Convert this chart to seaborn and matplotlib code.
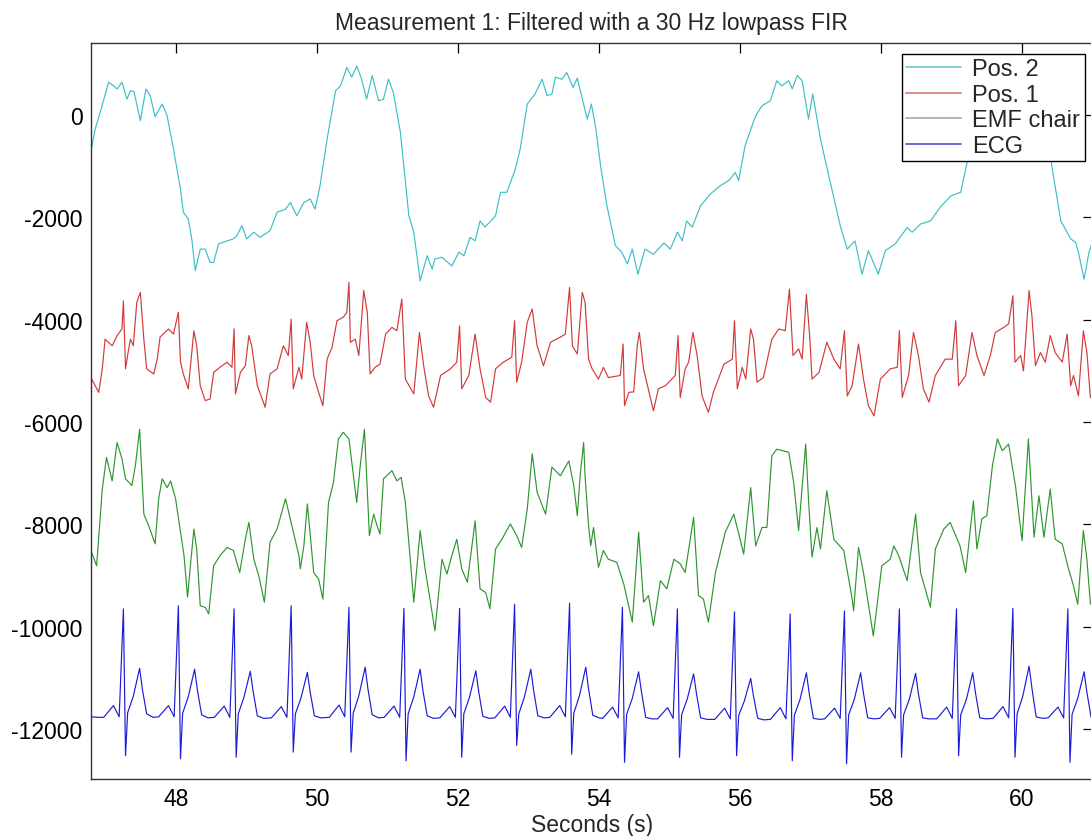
import matplotlib
matplotlib.use("Agg")
import matplotlib.pyplot as plt
import seaborn as sns
from matplotlib.lines import Line2D

sns.set_style("white")
plt.rcParams['font.family'] = ['Liberation Sans', 'DejaVu Sans']
plt.rcParams['axes.unicode_minus'] = False

# ---- Pos. 2 (cyan) ----
pos2_t = [46.79, 46.85, 46.92, 47.04, 47.11, 47.16, 47.23, 47.30, 47.35, 47.40,
          47.49, 47.57, 47.63, 47.70, 47.80, 47.87, 47.96, 48.06, 48.10, 48.17,
          48.22, 48.27, 48.34, 48.41, 48.48, 48.53, 48.60, 48.72, 48.81, 48.86,
          48.93, 49.00, 49.10, 49.19, 49.33, 49.43, 49.55, 49.62, 49.71, 49.81,
          49.90, 49.97, 50.04, 50.14, 50.26, 50.33, 50.42, 50.49, 50.56, 50.63,
          50.70, 50.78, 50.87, 50.94, 51.01, 51.08, 51.18, 51.30, 51.37, 51.44,
          51.46, 51.56, 51.63, 51.67, 51.77, 51.91, 52.01, 52.08, 52.17, 52.24,
          52.31, 52.38, 52.53, 52.60, 52.69, 52.81, 52.88, 52.98, 53.09, 53.19,
          53.26, 53.33, 53.38, 53.47, 53.54, 53.63, 53.69, 53.83, 53.89, 53.95,
          54.02, 54.11, 54.23, 54.32, 54.40, 54.47, 54.55, 54.65, 54.77, 54.92,
          55.01, 55.11, 55.18, 55.24, 55.32, 55.44, 55.58, 55.72, 55.84, 55.93,
          55.98, 56.07, 56.22, 56.31, 56.43, 56.52, 56.59, 56.69, 56.74, 56.81,
          56.88, 56.97, 57.03, 57.14, 57.28, 57.42, 57.52, 57.63, 57.73, 57.82,
          57.96, 58.06, 58.20, 58.37, 58.44, 58.56, 58.70, 58.84, 58.99, 59.13,
          59.22, 59.34, 59.55, 59.84, 60.12, 60.33, 60.43, 60.55, 60.69, 60.76,
          60.80, 60.88, 60.95, 60.98]
pos2_v = [-700, -270, 50, 640, 570, 510, 640, 310, 475, 455,
          -110, 510, 380, -30, 215, -15, -660, -1450, -1900, -2030,
          -2420, -3040, -2620, -2620, -2880, -2880, -2520, -2460, -2420, -2360,
          -2160, -2420, -2290, -2390, -2260, -1900, -1840, -1710, -1970, -1710,
          -1640, -1840, -1380, -470, 475, 570, 930, 740, 960, 700,
          310, 770, 280, 310, 700, 440, -340, -1970, -2290, -3010,
          -3240, -2750, -3010, -2810, -2780, -2950, -2680, -2750, -2390, -2460,
          -2070, -2190, -1970, -1510, -1510, -1060, -660, 215, 410, 700,
          380, 410, 740, 700, 830, 540, 720, -80, 215, -240,
          -990, -1770, -2550, -2680, -2910, -2620, -3110, -2620, -2720, -2500,
          -2620, -2290, -2460, -2070, -2190, -1770, -1540, -1380, -1280, -1120,
          -1280, -600, -15, 180, 280, 670, 570, 670, 510, 770,
          670, -80, 410, -470, -1320, -2160, -2620, -2460, -3110, -2650,
          -3110, -2650, -2520, -2200, -2290, -2130, -2070, -1800, -1580, -1510,
          -920, 120, 700, 800, 610, -80, -1060, -2070, -2420, -2490,
          -2680, -3210, -2680, -2550]

# ---- Pos. 1 (red) ----
pos1_t = [46.80, 46.90, 46.95, 46.99, 47.09, 47.16, 47.23, 47.25, 47.28, 47.32,
          47.35, 47.39, 47.44, 47.49, 47.54, 47.58, 47.68, 47.73, 47.77, 47.89,
          47.96, 48.03, 48.06, 48.10, 48.17, 48.25, 48.29, 48.34, 48.41, 48.48,
          48.53, 48.62, 48.72, 48.79, 48.82, 48.84, 48.91, 48.98, 49.03, 49.07,
          49.15, 49.22, 49.26, 49.33, 49.43, 49.52, 49.59, 49.63, 49.66, 49.74,
          49.78, 49.85, 49.90, 49.95, 50.02, 50.08, 50.14, 50.21, 50.28, 50.37,
          50.42, 50.45, 50.47, 50.54, 50.59, 50.66, 50.71, 50.75, 50.82, 50.89,
          50.97, 51.06, 51.13, 51.20, 51.25, 51.37, 51.45, 51.51, 51.58, 51.65,
          51.75, 51.89, 51.98, 52.02, 52.05, 52.15, 52.24, 52.31, 52.39, 52.46,
          52.53, 52.64, 52.76, 52.80, 52.83, 52.90, 52.98, 53.05, 53.12, 53.21,
          53.31, 53.45, 53.52, 53.58, 53.62, 53.69, 53.76, 53.80, 53.85, 53.90,
          53.99, 54.06, 54.13, 54.30, 54.34, 54.36, 54.42, 54.49, 54.54, 54.57,
          54.63, 54.77, 54.84, 54.94, 55.08, 55.12, 55.15, 55.22, 55.27, 55.33,
          55.39, 55.46, 55.55, 55.62, 55.77, 55.89, 55.92, 55.96, 56.03, 56.08,
          56.15, 56.19, 56.24, 56.33, 56.45, 56.55, 56.64, 56.70, 56.75, 56.83,
          56.88, 56.94, 56.99, 57.02, 57.12, 57.23, 57.33, 57.42, 57.48, 57.52,
          57.59, 57.68, 57.75, 57.82, 57.90, 57.99, 58.13, 58.23, 58.26, 58.30,
          58.39, 58.46, 58.53, 58.60, 58.68, 58.77, 58.91, 59.01, 59.06, 59.10,
          59.20, 59.29, 59.36, 59.46, 59.55, 59.62, 59.74, 59.81, 59.87, 59.90,
          59.98, 60.02, 60.10, 60.14, 60.19, 60.26, 60.33, 60.40, 60.47, 60.57,
          60.64, 60.69, 60.73, 60.80, 60.87, 60.92, 60.97]
pos1_v = [-5160, -5420, -4960, -4380, -4510, -4310, -4180, -3630, -4960, -4610,
          -4380, -4510, -3660, -3465, -4380, -4960, -5060, -4770, -4340, -4180,
          -4280, -3855, -4830, -5060, -5350, -4215, -4510, -5290, -5580, -5550,
          -5030, -4930, -4830, -4930, -4180, -5450, -5030, -4900, -4310, -4510,
          -5290, -5550, -5710, -5060, -4960, -4510, -4700, -3990, -5350, -4930,
          -5160, -4050, -4440, -5090, -5420, -5680, -4770, -4540, -4020, -3950,
          -3855, -3270, -4440, -4380, -4700, -3430, -3855, -5060, -4930, -4870,
          -4280, -4150, -4215, -3595, -5160, -5450, -4250, -4900, -5490, -5710,
          -5090, -4960, -4830, -4120, -5350, -5090, -4280, -4960, -5520, -5610,
          -4960, -4830, -4735, -4020, -5220, -4830, -4050, -3790, -4510, -4900,
          -4440, -4340, -4280, -3370, -4510, -4670, -3465, -3660, -4770, -4960,
          -5160, -4930, -5130, -5090, -4475, -5680, -5420, -5410, -4510, -4250,
          -4960, -5780, -5350, -5290, -5090, -4310, -5520, -4960, -4830, -4250,
          -4700, -5490, -5810, -5420, -4870, -4770, -4020, -5350, -4930, -5160,
          -4180, -4380, -5220, -5130, -4380, -4180, -4215, -3400, -4700, -4570,
          -4770, -3500, -4380, -5160, -5030, -4440, -4770, -4960, -4215, -5490,
          -5290, -4475, -5160, -5680, -5880, -5160, -4960, -4930, -4215, -5520,
          -5090, -4250, -4700, -5350, -5610, -5090, -4770, -4770, -4020, -5290,
          -5090, -4250, -4700, -5090, -4700, -4250, -4150, -4080, -3530, -4830,
          -4700, -5000, -3430, -3920, -4900, -4640, -4830, -4310, -4640, -4830,
          -4280, -5290, -5090, -5490, -4215, -4640, -5520]

# ---- green trace (no legend entry) ----
green_t = [46.80, 46.87, 46.95, 47.01, 47.09, 47.16, 47.23, 47.28, 47.37, 47.42,
           47.48, 47.54, 47.61, 47.70, 47.75, 47.80, 47.87, 47.92, 47.99, 48.06,
           48.11, 48.16, 48.20, 48.25, 48.29, 48.34, 48.41, 48.46, 48.53, 48.62,
           48.72, 48.81, 48.90, 48.98, 49.03, 49.10, 49.17, 49.25, 49.33, 49.43,
           49.55, 49.64, 49.74, 49.76, 49.81, 49.86, 49.95, 50.02, 50.08, 50.16,
           50.23, 50.30, 50.37, 50.45, 50.52, 50.56, 50.61, 50.67, 50.74, 50.80,
           50.85, 50.89, 50.94, 51.06, 51.13, 51.19, 51.25, 51.32, 51.37, 51.46,
           51.53, 51.60, 51.67, 51.77, 51.84, 51.91, 51.98, 52.05, 52.13, 52.24,
           52.31, 52.39, 52.45, 52.53, 52.62, 52.74, 52.83, 52.90, 52.98, 53.05,
           53.12, 53.24, 53.33, 53.45, 53.57, 53.64, 53.69, 53.73, 53.78, 53.80,
           53.85, 53.88, 53.92, 53.99, 54.06, 54.13, 54.25, 54.35, 54.47, 54.56,
           54.63, 54.70, 54.77, 54.87, 54.96, 55.06, 55.15, 55.22, 55.34, 55.41,
           55.48, 55.55, 55.65, 55.79, 55.91, 56.00, 56.05, 56.15, 56.22, 56.31,
           56.38, 56.45, 56.52, 56.69, 56.76, 56.83, 56.93, 56.97, 57.02, 57.09,
           57.14, 57.23, 57.33, 57.47, 57.59, 57.61, 57.68, 57.75, 57.89, 58.01,
           58.13, 58.18, 58.25, 58.37, 58.49, 58.56, 58.70, 58.77, 58.89, 58.98,
           59.12, 59.20, 59.31, 59.36, 59.43, 59.50, 59.58, 59.65, 59.72, 59.81,
           59.91, 60.00, 60.09, 60.17, 60.24, 60.31, 60.40, 60.47, 60.57, 60.66,
           60.73, 60.79, 60.87, 60.92, 60.97]
green_v = [-8550, -8810, -7310, -6690, -7150, -6400, -6720, -7110, -7240, -6850,
           -6140, -7800, -8030, -8380, -7500, -7110, -7280, -7150, -7500, -8150,
           -8610, -9420, -8810, -8090, -8480, -9590, -9620, -9750, -8810, -8610,
           -8450, -8510, -8940, -8290, -7960, -8680, -9000, -9520, -8350, -8090,
           -7500, -8030, -8610, -8870, -8420, -7600, -8940, -9070, -9460, -7570,
           -7180, -6330, -6200, -6330, -7110, -7570, -6850, -6140, -8220, -7800,
           -8030, -8190, -7110, -6950, -7150, -7080, -7570, -8680, -9520, -8120,
           -8870, -9460, -10080, -8680, -8970, -8610, -8290, -8870, -9130, -7930,
           -9260, -9330, -9650, -8480, -8290, -7990, -8220, -8450, -7700, -6620,
           -7370, -7800, -6880, -7050, -6760, -7240, -7830, -7050, -6400, -7050,
           -8030, -8420, -8060, -8840, -8510, -8680, -8740, -9170, -9910, -8150,
           -9520, -9390, -9980, -9100, -9260, -8680, -8770, -8940, -7860, -9390,
           -9460, -9910, -8940, -8150, -7800, -8290, -8580, -7280, -8420, -8060,
           -8060, -6660, -6530, -6590, -7180, -8120, -6430, -7500, -8640, -8060,
           -8480, -7340, -8290, -8510, -9460, -9690, -8450, -8940, -10180, -8810,
           -8680, -8420, -8610, -9100, -7800, -8940, -9620, -8480, -8090, -7960,
           -8420, -8940, -7540, -8480, -7890, -7830, -6850, -6330, -6560, -6430,
           -7280, -8320, -6330, -8250, -7440, -8250, -7310, -8290, -8380, -8870,
           -9200, -9560, -8120, -8680, -9560]

# ---- ECG (blue), one beat per row ----
ecg_t = [46.79, 46.90,
         46.97, 47.11, 47.19, 47.25, 47.28, 47.31, 47.39, 47.48, 47.52, 47.58, 47.67,
         47.75, 47.89, 47.97, 48.03, 48.06, 48.09, 48.17, 48.26, 48.30, 48.36, 48.45,
         48.54, 48.68, 48.76, 48.82, 48.85, 48.88, 48.96, 49.05, 49.09, 49.15, 49.24,
         49.35, 49.49, 49.57, 49.63, 49.66, 49.69, 49.77, 49.86, 49.90, 49.96, 50.05,
         50.17, 50.31, 50.39, 50.45, 50.48, 50.51, 50.59, 50.68, 50.72, 50.78, 50.87,
         50.95, 51.09, 51.17, 51.23, 51.26, 51.29, 51.37, 51.46, 51.50, 51.56, 51.65,
         51.74, 51.88, 51.96, 52.02, 52.05, 52.08, 52.16, 52.25, 52.29, 52.35, 52.44,
         52.52, 52.66, 52.74, 52.80, 52.83, 52.86, 52.94, 53.03, 53.07, 53.13, 53.22,
         53.30, 53.44, 53.52, 53.58, 53.61, 53.64, 53.72, 53.81, 53.85, 53.91, 54.00,
         54.05, 54.19, 54.27, 54.33, 54.36, 54.39, 54.47, 54.56, 54.60, 54.66, 54.75,
         54.83, 54.97, 55.05, 55.11, 55.14, 55.17, 55.25, 55.34, 55.38, 55.44, 55.53,
         55.64, 55.78, 55.86, 55.92, 55.95, 55.98, 56.06, 56.15, 56.19, 56.25, 56.34,
         56.43, 56.57, 56.65, 56.71, 56.74, 56.77, 56.85, 56.94, 56.98, 57.04, 57.13,
         57.20, 57.34, 57.42, 57.48, 57.51, 57.54, 57.62, 57.71, 57.75, 57.81, 57.90,
         57.98, 58.12, 58.20, 58.26, 58.29, 58.32, 58.40, 58.49, 58.53, 58.59, 58.68,
         58.79, 58.93, 59.01, 59.07, 59.10, 59.13, 59.21, 59.30, 59.34, 59.40, 59.49,
         59.59, 59.73, 59.81, 59.87, 59.90, 59.93, 60.01, 60.10, 60.14, 60.20, 60.29,
         60.37, 60.51, 60.59, 60.65, 60.68, 60.71, 60.79, 60.88, 60.92, 60.98, 61.07]
ecg_v = [-11760, -11770,
         -11770, -11540, -11760, -9650, -12520, -11680, -11360, -10810, -11230, -11700, -11770,
         -11760, -11540, -11760, -9590, -12580, -11690, -11370, -10830, -11240, -11720, -11780,
         -11770, -11550, -11770, -9650, -12550, -11700, -11380, -10870, -11260, -11740, -11790,
         -11780, -11560, -11770, -9590, -12450, -11700, -11390, -10890, -11280, -11740, -11780,
         -11770, -11530, -11760, -9620, -12450, -11690, -11350, -10790, -11220, -11720, -11780,
         -11770, -11550, -11770, -9640, -12620, -11700, -11370, -10830, -11250, -11740, -11790,
         -11780, -11560, -11770, -9640, -12550, -11700, -11380, -10860, -11260, -11750, -11790,
         -11780, -11550, -11770, -9560, -12320, -11700, -11370, -10830, -11240, -11740, -11780,
         -11770, -11540, -11760, -9540, -12490, -11690, -11350, -10790, -11220, -11730, -11780,
         -11790, -11570, -11780, -9620, -12650, -11710, -11400, -10880, -11270, -11770, -11800,
         -11800, -11580, -11790, -9650, -12550, -11720, -11410, -10920, -11300, -11780, -11810,
         -11810, -11590, -11800, -9710, -12520, -11730, -11450, -11010, -11360, -11790, -11820,
         -11810, -11580, -11800, -9750, -12620, -11730, -11420, -10900, -11300, -11790, -11810,
         -11800, -11590, -11790, -9690, -12680, -11720, -11420, -10900, -11300, -11780, -11800,
         -11790, -11580, -11790, -9650, -12550, -11720, -11420, -10910, -11310, -11780, -11800,
         -11800, -11570, -11790, -9650, -12520, -11720, -11420, -10900, -11300, -11780, -11800,
         -11790, -11560, -11780, -9640, -12550, -11700, -11360, -10770, -11200, -11760, -11790,
         -11780, -11570, -11780, -9650, -12650, -11710, -11400, -10880, -11280, -11770, -11790]

legend_labels = ["Pos. 2", "Pos. 1", "EMF chair", "ECG"]
c_pos2, c_pos1, c_emf, c_ecg, c_green = "#3cbfc6", "#d23a3a", "#a8a8a8", "#1c1cd8", "#2f962f"

fig = plt.figure(figsize=(10.91, 8.37), dpi=100)
ax = fig.add_axes([0.0834, 0.0681, 0.9180, 0.8793])

lw = 0.85
sns.lineplot(x=ecg_t, y=ecg_v, color=c_ecg, lw=lw, ax=ax, estimator=None, sort=False, legend=False)
sns.lineplot(x=green_t, y=green_v, color=c_green, lw=lw, ax=ax, estimator=None, sort=False, legend=False)
sns.lineplot(x=pos1_t, y=pos1_v, color=c_pos1, lw=lw, ax=ax, estimator=None, sort=False, legend=False)
sns.lineplot(x=pos2_t, y=pos2_v, color=c_pos2, lw=lw, ax=ax, estimator=None, sort=False, legend=False)

ax.set_xlim(46.79, 61.0)
ax.set_ylim(-12975, 1407)
ax.set_xticks(range(48, 61, 2))
ax.set_yticks(range(-12000, 1, 2000))
ax.tick_params(direction='in', top=True, right=True, length=7, width=0.9,
               labelsize=16.5, pad=6, colors='black')
for s in ax.spines.values():
    s.set_visible(True)
    s.set_color('#333333')
    s.set_linewidth(1.0)

ax.set_title("Measurement 1: Filtered with a 30 Hz lowpass FIR", fontsize=16.5, pad=10)
ax.set_xlabel("Seconds (s)", fontsize=16.5, labelpad=2)
ax.set_ylabel("")

# legend lines look paler than the plotted traces in the reference
legend_colors = ["#7fd3d6", "#dd8a8a", "#b4b4b4", "#6a6ad8"]
handles = [Line2D([], [], color=c, lw=1.4) for c in legend_colors]
leg = ax.legend(handles, legend_labels, loc='upper right', bbox_to_anchor=(0.992, 0.985),
                fontsize=17, frameon=True, fancybox=False, edgecolor='black', framealpha=1,
                borderpad=0.18, labelspacing=0.15, handlelength=2.3, handletextpad=0.5,
                borderaxespad=0)
leg.get_frame().set_linewidth(1.0)

plt.savefig("out.png", dpi=100)
plt.close()
